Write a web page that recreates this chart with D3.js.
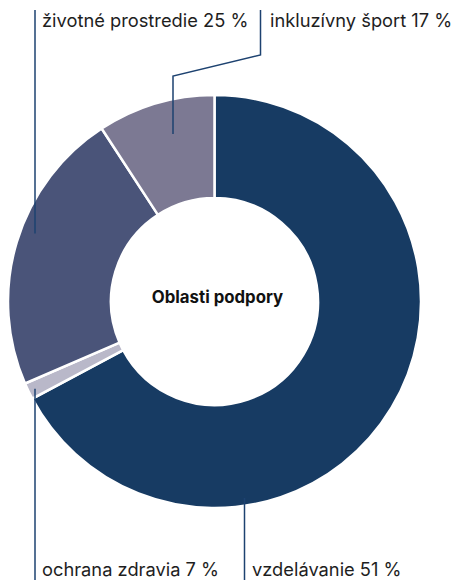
<!DOCTYPE html>
<html>
<head>
<meta charset="utf-8">
<script src="https://cdn.jsdelivr.net/npm/d3@7"></script>
<style>
  body { margin: 0; background: #fff; }
  text { font-family: Inter, "Open Sans", sans-serif; }
</style>
</head>
<body>
<div class="vis-holder"></div>
<script>
// categories in drawing order (clockwise from 12 o'clock)
var categories = ["vzdelávanie", "ochrana zdravia", "životné prostredie", "inkluzívny šport"];
// slice sizes as they appear in the picture (share of the circle, %)
var sliceValues = [67.2, 1.3, 22.3, 9.2];
// percentages printed in the labels
var labelPercents = [51, 7, 25, 17];
var colors = ["#173b63", "#b9b8c9", "#4a5479", "#7c7993"];
var centerTitle = "Oblasti podpory";

var width = 459;
var height = 580;
var cx = 214.5, cy = 301.5;
var outerR = 206.5, innerR = 103.5;

var svg = d3.select(".vis-holder")
      .append('svg')
      .attr('width', width)
      .attr('height', height);

var data = categories.map(function(c, i) {
  return { name: c, value: sliceValues[i], pct: labelPercents[i], color: colors[i] };
});

var pie = d3.pie()
      .sort(null)
      .value(function(d) { return d.value; });

var arc = d3.arc()
      .innerRadius(innerR)
      .outerRadius(outerR);

var g = svg.append('g')
      .attr('transform', 'translate(' + cx + ',' + cy + ')');

var arcs = pie(data);

g.selectAll('path')
  .data(arcs)
  .enter()
  .append('path')
  .attr('d', arc)
  .attr('fill', function(d) { return d.data.color; })
  .attr('stroke', '#fff')
  .attr('stroke-width', 2.5);

// point inside a slice at given radius, at fraction t of its angle span
function inside(a, r, t) {
  var ang = a.startAngle + (a.endAngle - a.startAngle) * t;
  return [cx + r * Math.sin(ang), cy - r * Math.cos(ang)];
}

// leader lines + labels
var topY = 10, bottomY = 580;
var lines = [];
// vzdelávanie - bottom
lines.push({ pts: [[244.5, 498], [244.5, bottomY]], tx: 252, ty: 576, i: 0 });
// ochrana zdravia - bottom left
var p1 = inside(arcs[1], 201, 0.5);
lines.push({ pts: [[35, p1[1]], [35, bottomY]], tx: 42, ty: 576, i: 1 });
// životné prostredie - top left
var p2 = inside(arcs[2], 192, 0.55);
lines.push({ pts: [[35, p2[1]], [35, topY]], tx: 42, ty: 27, i: 2 });
// inkluzívny šport - top, with a jog
var p3 = inside(arcs[3], 172, 0.6);
lines.push({ pts: [[173, p3[1]], [173, 76], [260.5, 55], [260.5, topY]], tx: 270, ty: 27, i: 3 });

var lineGen = d3.line();

svg.selectAll('.leader')
  .data(lines)
  .enter()
  .append('path')
  .attr('class', 'leader')
  .attr('d', function(d) { return lineGen(d.pts); })
  .attr('fill', 'none')
  .attr('stroke', '#1d4270')
  .attr('stroke-width', 1.5);

svg.selectAll('.label')
  .data(lines)
  .enter()
  .append('text')
  .attr('class', 'label')
  .attr('x', function(d) { return d.tx; })
  .attr('y', function(d) { return d.ty; })
  .attr('font-size', 18.3)
  .attr('fill', '#1e1e1e')
  .text(function(d) { return data[d.i].name + ' ' + data[d.i].pct + ' %'; });

svg.append('text')
  .attr('x', cx + 3)
  .attr('y', cy + 1)
  .attr('text-anchor', 'middle')
  .attr('font-size', 16.8)
  .attr('font-weight', 'bold')
  .attr('fill', '#111')
  .text(centerTitle);
</script>
</body>
</html>
